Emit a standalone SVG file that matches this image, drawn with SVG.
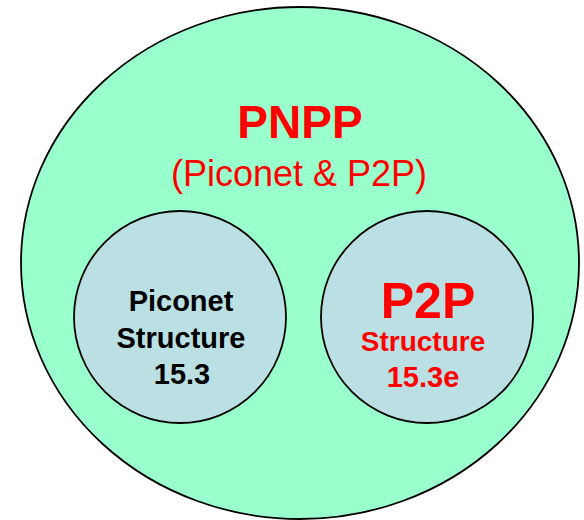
<svg xmlns="http://www.w3.org/2000/svg" width="584" height="520" viewBox="0 0 584 520">
  <style>
    .outer { fill: #99FFCC; stroke: #000; stroke-width: 1.8; }
    .inner { fill: #BBE0E3; stroke: #000; stroke-width: 1.8; }
    text { font-family: "Liberation Sans", Arial, sans-serif; text-anchor: middle; }
    .red { fill: #FF0000; }
    .blk { fill: #000; }
    .b { font-weight: bold; }
  </style>
  <rect width="584" height="520" fill="#FFFFFF"/>
  <g id="pnpp">
    <ellipse class="outer" cx="300" cy="263" rx="279" ry="256"/>
    <text class="red b" x="300" y="138" font-size="46">PNPP</text>
    <text class="red" x="299" y="186" font-size="36">(Piconet &amp; P2P)</text>
  </g>
  <g id="piconet">
    <circle class="inner" cx="180" cy="317" r="106"/>
    <text class="blk b" x="181" y="311" font-size="29">Piconet</text>
    <text class="blk b" x="181" y="348" font-size="29">Structure</text>
    <text class="blk b" x="182" y="384" font-size="29">15.3</text>
  </g>
  <g id="p2p">
    <circle class="inner" cx="427" cy="317" r="106"/>
    <text class="red b" x="428" y="318" font-size="50">P2P</text>
    <text class="red b" x="423" y="351" font-size="28">Structure</text>
    <text class="red b" x="423" y="387" font-size="29">15.3e</text>
  </g>
  <g id="connectors"/>
</svg>
